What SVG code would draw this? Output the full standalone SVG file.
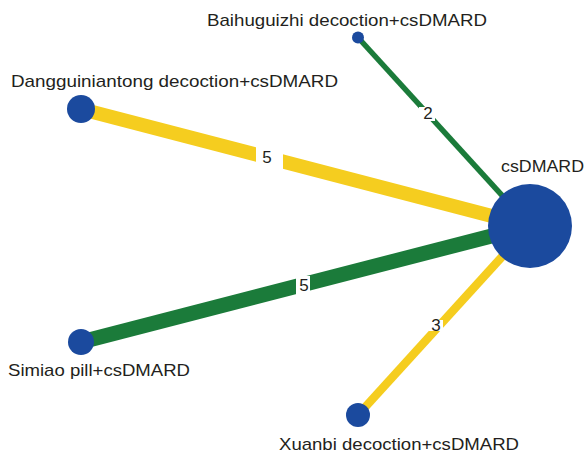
<svg xmlns="http://www.w3.org/2000/svg" width="586" height="453" viewBox="0 0 586 453">
<style>
.node{fill:#1b4a9e}
.lbl{font-family:"Liberation Sans",Arial,sans-serif;font-size:17px;fill:#231f20}
.num{font-family:"Liberation Sans",Arial,sans-serif;font-size:17px;fill:#231f20;text-anchor:middle}
.yel{stroke:#f5cd1f;fill:none}
.grn{stroke:#1b7b3a;fill:none}
.gap{fill:#ffffff}
</style>
<rect width="586" height="453" fill="#ffffff"/>
<g id="connectors">
<line class="grn" x1="358" y1="37.5" x2="530" y2="226" stroke-width="5.5"/>
<line class="yel" x1="81" y1="109" x2="530" y2="226" stroke-width="14"/>
<line class="grn" x1="81" y1="342" x2="530" y2="226" stroke-width="15"/>
<line class="yel" x1="358" y1="415" x2="530" y2="226" stroke-width="8.5"/>
<rect class="gap" x="419" y="107" width="16" height="14"/>
<text class="num" x="428" y="119">2</text>
<rect class="gap" x="256" y="146" width="27" height="24"/>
<text class="num" x="267" y="163">5</text>
<rect class="gap" x="296" y="276" width="14" height="20"/>
<text class="num" x="304" y="291">5</text>
<rect class="gap" x="429" y="320" width="14" height="11"/>
<text class="num" x="436" y="331">3</text>
</g>
<g id="node-csDMARD">
<circle class="node" cx="530" cy="226" r="42"/>
<text class="lbl" x="501" y="172" textLength="83" lengthAdjust="spacingAndGlyphs">csDMARD</text>
</g>
<g id="node-baihuguizhi">
<circle class="node" cx="358" cy="37.5" r="6"/>
<text class="lbl" x="207" y="26" textLength="280" lengthAdjust="spacingAndGlyphs">Baihuguizhi decoction+csDMARD</text>
</g>
<g id="node-dangguiniantong">
<circle class="node" cx="81" cy="109" r="14"/>
<text class="lbl" x="11" y="87" textLength="327" lengthAdjust="spacingAndGlyphs">Dangguiniantong decoction+csDMARD</text>
</g>
<g id="node-simiao">
<circle class="node" cx="81" cy="342" r="13"/>
<text class="lbl" x="8" y="376" textLength="182" lengthAdjust="spacingAndGlyphs">Simiao pill+csDMARD</text>
</g>
<g id="node-xuanbi">
<circle class="node" cx="358" cy="415" r="12"/>
<text class="lbl" x="279" y="450" textLength="240" lengthAdjust="spacingAndGlyphs">Xuanbi decoction+csDMARD</text>
</g>
</svg>
